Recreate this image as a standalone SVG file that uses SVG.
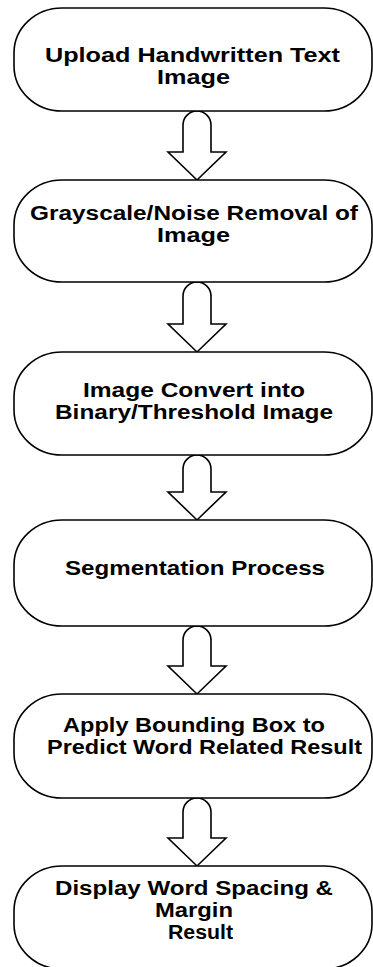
<svg xmlns="http://www.w3.org/2000/svg" width="373" height="967" viewBox="0 0 373 967">
<style>
.node{fill:#fff;stroke:#000;stroke-width:1.6}
.arr{fill:#fff;stroke:#000;stroke-width:1.6;stroke-linejoin:miter}
.t{font-family:"Liberation Sans",Arial,sans-serif;font-weight:bold;font-size:19.5px;fill:#000;text-anchor:middle}
</style>
<rect width="373" height="967" fill="#fff"/>
<g id="connectors">
<path class="arr" d="M183,152 V125 A14,14 0 0 1 211,125 V152 H226 L197,180 L168,152 Z"/>
<path class="arr" d="M183,324 V296 A14,14 0 0 1 211,296 V324 H226 L197,352 L168,324 Z"/>
<path class="arr" d="M183,492 V469 A14,14 0 0 1 211,469 V492 H226 L197,520 L168,492 Z"/>
<path class="arr" d="M183,666 V640 A14,14 0 0 1 211,640 V666 H226 L197,694 L168,666 Z"/>
<path class="arr" d="M183,838 V812 A14,14 0 0 1 211,812 V838 H226 L197,866 L168,838 Z"/>
</g>
<g id="n1">
<rect class="node" x="14" y="8" width="358" height="103" rx="48" ry="45"/>
<text class="t" x="192.5" y="61.5" textLength="295" lengthAdjust="spacingAndGlyphs">Upload Handwritten Text</text>
<text class="t" x="193.5" y="83.5" textLength="73" lengthAdjust="spacingAndGlyphs">Image</text>
</g>
<g id="n2">
<rect class="node" x="14" y="180" width="358" height="102" rx="48" ry="45"/>
<text class="t" x="194" y="219.8" textLength="328" lengthAdjust="spacingAndGlyphs">Grayscale/Noise Removal of</text>
<text class="t" x="193.5" y="241.8" textLength="73" lengthAdjust="spacingAndGlyphs">Image</text>
</g>
<g id="n3">
<rect class="node" x="14" y="352" width="358" height="103" rx="48" ry="45"/>
<text class="t" x="194" y="396.5" textLength="222" lengthAdjust="spacingAndGlyphs">Image Convert into</text>
<text class="t" x="194" y="418.5" textLength="278" lengthAdjust="spacingAndGlyphs">Binary/Threshold Image</text>
</g>
<g id="n4">
<rect class="node" x="14" y="520" width="358" height="106" rx="48" ry="45"/>
<text class="t" x="195" y="575" textLength="260" lengthAdjust="spacingAndGlyphs">Segmentation Process</text>
</g>
<g id="n5">
<rect class="node" x="14" y="694" width="358" height="104" rx="48" ry="45"/>
<text class="t" x="194" y="731.8" textLength="262" lengthAdjust="spacingAndGlyphs">Apply Bounding Box to</text>
<text class="t" x="204.5" y="753.8" textLength="315" lengthAdjust="spacingAndGlyphs">Predict Word Related Result</text>
</g>
<g id="n6">
<rect class="node" x="14" y="866" width="358" height="103" rx="48" ry="45"/>
<text class="t" x="194" y="894.6" textLength="278" lengthAdjust="spacingAndGlyphs">Display Word Spacing &amp;</text>
<text class="t" x="194" y="916.6" textLength="78" lengthAdjust="spacingAndGlyphs">Margin</text>
<text class="t" x="200.5" y="938.6" textLength="65" lengthAdjust="spacingAndGlyphs">Result</text>
</g>
</svg>
